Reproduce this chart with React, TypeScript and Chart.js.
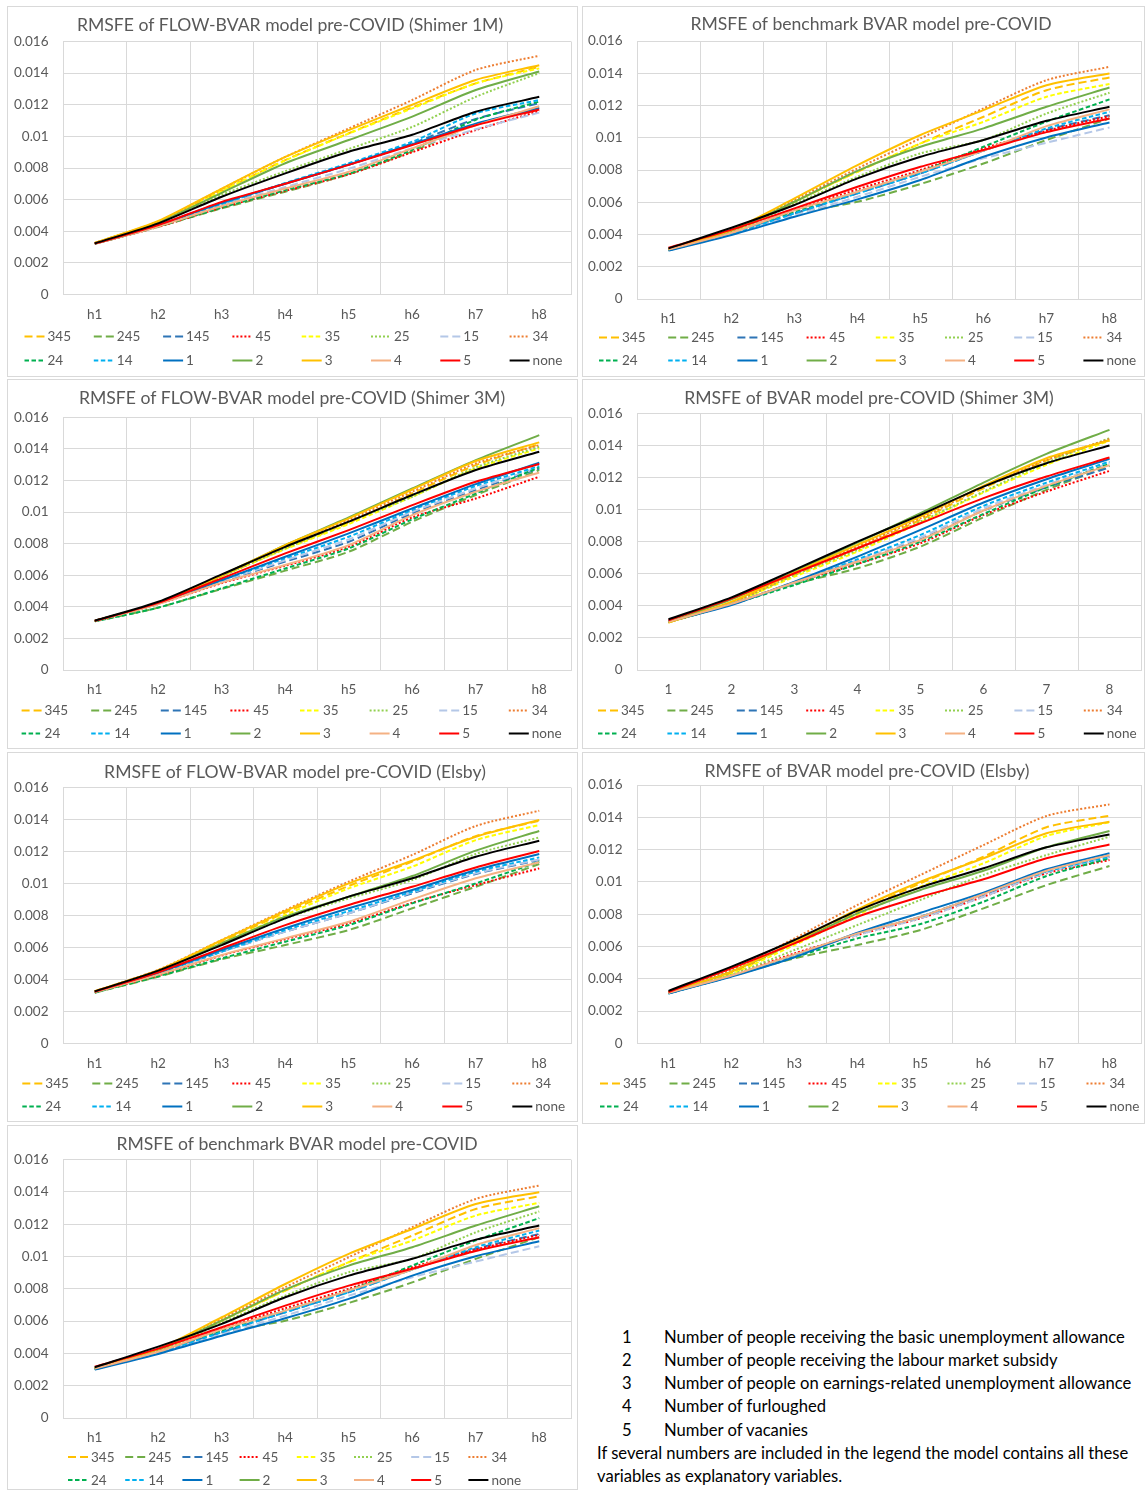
import React, { useEffect, useRef } from 'react';
import { Chart, registerables } from 'chart.js';

Chart.register(...registerables);

// ---------- categories / labels ----------
const hLabels = ['h1', 'h2', 'h3', 'h4', 'h5', 'h6', 'h7', 'h8'];
const numLabels = ['1', '2', '3', '4', '5', '6', '7', '8'];
const seriesNames = ['345', '245', '145', '45', '35', '25', '15', '34', '24', '14', '1', '2', '3', '4', '5', 'none'];
const yTickValues = [0, 0.002, 0.004, 0.006, 0.008, 0.01, 0.012, 0.014, 0.016];

// ---------- series values (rows follow seriesNames order) ----------
const flowShimer1M = [
  [0.00325, 0.00460, 0.00656, 0.00850, 0.01020, 0.01183, 0.01335, 0.01440],
  [0.00321, 0.00428, 0.00545, 0.00650, 0.00760, 0.00905, 0.01075, 0.01170],
  [0.00322, 0.00438, 0.00570, 0.00702, 0.00820, 0.00955, 0.01110, 0.01210],
  [0.00321, 0.00428, 0.00550, 0.00655, 0.00760, 0.00900, 0.01040, 0.01160],
  [0.00325, 0.00458, 0.00655, 0.00848, 0.01018, 0.01177, 0.01335, 0.01430],
  [0.00324, 0.00450, 0.00630, 0.00780, 0.00920, 0.01060, 0.01250, 0.01400],
  [0.00321, 0.00432, 0.00565, 0.00680, 0.00795, 0.00925, 0.01045, 0.01150],
  [0.00326, 0.00462, 0.00668, 0.00870, 0.01050, 0.01230, 0.01420, 0.01510],
  [0.00321, 0.00430, 0.00550, 0.00660, 0.00765, 0.00915, 0.01105, 0.01220],
  [0.00322, 0.00438, 0.00572, 0.00705, 0.00830, 0.00966, 0.01145, 0.01230],
  [0.00322, 0.00440, 0.00580, 0.00700, 0.00822, 0.00950, 0.01080, 0.01180],
  [0.00325, 0.00455, 0.00643, 0.00830, 0.00977, 0.01125, 0.01293, 0.01410],
  [0.00326, 0.00465, 0.00670, 0.00870, 0.01040, 0.01200, 0.01357, 0.01450],
  [0.00321, 0.00430, 0.00560, 0.00670, 0.00776, 0.00924, 0.01070, 0.01190],
  [0.00322, 0.00440, 0.00586, 0.00700, 0.00820, 0.00945, 0.01070, 0.01170],
  [0.00323, 0.00450, 0.00618, 0.00766, 0.00903, 0.01010, 0.01156, 0.01250],
];

const benchmarkBvar = [
  [0.00305, 0.00410, 0.00603, 0.00789, 0.00965, 0.01130, 0.01295, 0.01374],
  [0.00302, 0.00405, 0.00530, 0.00603, 0.00713, 0.00840, 0.00986, 0.01120],
  [0.00303, 0.00405, 0.00531, 0.00655, 0.00779, 0.00920, 0.01048, 0.01140],
  [0.00308, 0.00410, 0.00552, 0.00680, 0.00800, 0.00934, 0.01043, 0.01134],
  [0.00305, 0.00410, 0.00603, 0.00789, 0.00965, 0.01099, 0.01254, 0.01333],
  [0.00305, 0.00410, 0.00589, 0.00758, 0.00903, 0.00986, 0.01150, 0.01279],
  [0.00302, 0.00405, 0.00520, 0.00634, 0.00758, 0.00872, 0.00969, 0.01064],
  [0.00308, 0.00420, 0.00613, 0.00810, 0.00996, 0.01182, 0.01357, 0.01440],
  [0.00305, 0.00405, 0.00541, 0.00665, 0.00790, 0.00944, 0.01100, 0.01238],
  [0.00303, 0.00405, 0.00531, 0.00655, 0.00779, 0.00920, 0.01058, 0.01161],
  [0.00300, 0.00397, 0.00510, 0.00618, 0.00738, 0.00882, 0.01002, 0.01095],
  [0.00308, 0.00425, 0.00603, 0.00795, 0.00944, 0.01058, 0.01192, 0.01312],
  [0.00308, 0.00428, 0.00624, 0.00830, 0.01017, 0.01171, 0.01326, 0.01399],
  [0.00306, 0.00410, 0.00550, 0.00665, 0.00790, 0.00920, 0.01072, 0.01176],
  [0.00318, 0.00430, 0.00562, 0.00696, 0.00820, 0.00924, 0.01035, 0.01120],
  [0.00314, 0.00442, 0.00583, 0.00748, 0.00882, 0.00986, 0.01105, 0.01192],
];

const flowShimer3M = [
  [0.00310, 0.00422, 0.00595, 0.00770, 0.00932, 0.01118, 0.01297, 0.01430],
  [0.00308, 0.00395, 0.00513, 0.00629, 0.00749, 0.00939, 0.01108, 0.01266],
  [0.00310, 0.00420, 0.00560, 0.00686, 0.00812, 0.00992, 0.01139, 0.01276],
  [0.00310, 0.00418, 0.00550, 0.00660, 0.00780, 0.00966, 0.01086, 0.01224],
  [0.00310, 0.00422, 0.00595, 0.00765, 0.00924, 0.01097, 0.01276, 0.01403],
  [0.00310, 0.00422, 0.00595, 0.00770, 0.00939, 0.01097, 0.01283, 0.01413],
  [0.00310, 0.00420, 0.00562, 0.00695, 0.00827, 0.01002, 0.01150, 0.01283],
  [0.00311, 0.00424, 0.00600, 0.00780, 0.00949, 0.01129, 0.01308, 0.01424],
  [0.00308, 0.00395, 0.00517, 0.00643, 0.00770, 0.00954, 0.01118, 0.01283],
  [0.00310, 0.00422, 0.00568, 0.00707, 0.00844, 0.01013, 0.01165, 0.01291],
  [0.00311, 0.00422, 0.00570, 0.00717, 0.00865, 0.01023, 0.01177, 0.01312],
  [0.00311, 0.00425, 0.00600, 0.00791, 0.00966, 0.01150, 0.01329, 0.01487],
  [0.00311, 0.00425, 0.00600, 0.00791, 0.00960, 0.01143, 0.01323, 0.01441],
  [0.00310, 0.00418, 0.00553, 0.00665, 0.00791, 0.00981, 0.01129, 0.01251],
  [0.00311, 0.00425, 0.00580, 0.00738, 0.00886, 0.01044, 0.01192, 0.01304],
  [0.00312, 0.00432, 0.00605, 0.00780, 0.00939, 0.01108, 0.01266, 0.01382],
];

const bvarShimer3M = [
  [0.00298, 0.00416, 0.00592, 0.00759, 0.00936, 0.01133, 0.01305, 0.01435],
  [0.00298, 0.00410, 0.00536, 0.00634, 0.00769, 0.00952, 0.01123, 0.01272],
  [0.00300, 0.00410, 0.00545, 0.00676, 0.00815, 0.00994, 0.01139, 0.01262],
  [0.00300, 0.00412, 0.00545, 0.00661, 0.00790, 0.00967, 0.01112, 0.01241],
  [0.00297, 0.00416, 0.00582, 0.00738, 0.00919, 0.01106, 0.01279, 0.01430],
  [0.00298, 0.00416, 0.00592, 0.00748, 0.00925, 0.01112, 0.01293, 0.01445],
  [0.00300, 0.00412, 0.00545, 0.00685, 0.00827, 0.01008, 0.01154, 0.01289],
  [0.00300, 0.00420, 0.00603, 0.00769, 0.00946, 0.01143, 0.01310, 0.01439],
  [0.00300, 0.00410, 0.00530, 0.00661, 0.00800, 0.00973, 0.01139, 0.01285],
  [0.00302, 0.00412, 0.00545, 0.00690, 0.00842, 0.01023, 0.01168, 0.01299],
  [0.00302, 0.00405, 0.00551, 0.00707, 0.00873, 0.01044, 0.01189, 0.01316],
  [0.00300, 0.00440, 0.00613, 0.00794, 0.00977, 0.01168, 0.01347, 0.01497],
  [0.00295, 0.00426, 0.00607, 0.00780, 0.00956, 0.01148, 0.01320, 0.01430],
  [0.00300, 0.00412, 0.00545, 0.00676, 0.00811, 0.00994, 0.01148, 0.01277],
  [0.00310, 0.00447, 0.00603, 0.00759, 0.00915, 0.01071, 0.01206, 0.01324],
  [0.00316, 0.00453, 0.00624, 0.00800, 0.00967, 0.01143, 0.01289, 0.01399],
];

const flowElsby = [
  [0.00325, 0.00455, 0.00636, 0.00818, 0.00985, 0.01137, 0.01297, 0.01393],
  [0.00317, 0.00417, 0.00526, 0.00615, 0.00709, 0.00845, 0.00980, 0.01122],
  [0.00322, 0.00440, 0.00574, 0.00699, 0.00814, 0.00939, 0.01060, 0.01147],
  [0.00320, 0.00425, 0.00550, 0.00651, 0.00751, 0.00880, 0.00991, 0.01095],
  [0.00324, 0.00452, 0.00626, 0.00803, 0.00970, 0.01106, 0.01272, 0.01366],
  [0.00324, 0.00450, 0.00620, 0.00782, 0.00907, 0.01022, 0.01185, 0.01289],
  [0.00322, 0.00438, 0.00574, 0.00699, 0.00814, 0.00945, 0.01064, 0.01151],
  [0.00326, 0.00460, 0.00647, 0.00834, 0.01012, 0.01179, 0.01360, 0.01456],
  [0.00318, 0.00420, 0.00532, 0.00636, 0.00740, 0.00876, 0.01001, 0.01137],
  [0.00322, 0.00440, 0.00574, 0.00709, 0.00828, 0.00949, 0.01074, 0.01164],
  [0.00323, 0.00442, 0.00584, 0.00720, 0.00845, 0.00960, 0.01085, 0.01185],
  [0.00324, 0.00452, 0.00626, 0.00793, 0.00918, 0.01047, 0.01206, 0.01329],
  [0.00326, 0.00458, 0.00645, 0.00828, 0.01001, 0.01143, 0.01293, 0.01398],
  [0.00320, 0.00430, 0.00553, 0.00657, 0.00761, 0.00901, 0.01033, 0.01133],
  [0.00323, 0.00445, 0.00594, 0.00740, 0.00866, 0.00980, 0.01101, 0.01204],
  [0.00325, 0.00455, 0.00615, 0.00782, 0.00918, 0.01033, 0.01168, 0.01268],
];

const bvarElsby = [
  [0.00312, 0.00434, 0.00623, 0.00815, 0.00991, 0.01156, 0.01338, 0.01410],
  [0.00310, 0.00417, 0.00526, 0.00609, 0.00702, 0.00836, 0.00980, 0.01098],
  [0.00310, 0.00417, 0.00547, 0.00678, 0.00784, 0.00920, 0.01063, 0.01156],
  [0.00312, 0.00420, 0.00557, 0.00671, 0.00774, 0.00908, 0.01053, 0.01135],
  [0.00312, 0.00430, 0.00609, 0.00795, 0.00970, 0.01115, 0.01284, 0.01369],
  [0.00312, 0.00425, 0.00578, 0.00733, 0.00888, 0.01043, 0.01166, 0.01280],
  [0.00310, 0.00417, 0.00547, 0.00671, 0.00774, 0.00908, 0.01057, 0.01152],
  [0.00315, 0.00455, 0.00650, 0.00857, 0.01043, 0.01228, 0.01408, 0.01480],
  [0.00310, 0.00417, 0.00533, 0.00650, 0.00739, 0.00877, 0.01036, 0.01146],
  [0.00310, 0.00417, 0.00547, 0.00681, 0.00784, 0.00925, 0.01063, 0.01156],
  [0.00308, 0.00413, 0.00533, 0.00685, 0.00809, 0.00933, 0.01078, 0.01177],
  [0.00315, 0.00444, 0.00623, 0.00805, 0.00950, 0.01069, 0.01214, 0.01315],
  [0.00315, 0.00444, 0.00630, 0.00830, 0.01001, 0.01146, 0.01301, 0.01373],
  [0.00312, 0.00420, 0.00550, 0.00681, 0.00784, 0.00925, 0.01069, 0.01166],
  [0.00318, 0.00465, 0.00619, 0.00784, 0.00908, 0.01016, 0.01146, 0.01232],
  [0.00325, 0.00475, 0.00640, 0.00822, 0.00966, 0.01084, 0.01214, 0.01294],
];

// ---------- styles ----------
const seriesColors = [
  '#FFC000', '#70AD47', '#2E75B6', '#FF0000', '#FFFF00', '#92D050', '#B4C7E7', '#ED7D31',
  '#00B050', '#00B0F0', '#0070C0', '#70AD47', '#FFC000', '#F4B183', '#FF0000', '#000000',
];
const longDash = [8, 4];
const shortDash = [4.5, 2.5];
const dot = [2, 2];
const solid: number[] = [];
const seriesDash = [
  longDash, longDash, longDash, dot, shortDash, dot, longDash, dot,
  shortDash, shortDash, solid, solid, solid, solid, solid, solid,
];

const FONT = 'Lato, "Open Sans", sans-serif';
const GRID = '#D9D9D9';
const TEXT = '#595959';

type PanelSpec = {
  title: string;
  labels: string[];
  values: number[][];
  box: [number, number, number, number]; // left, top, right, bottom (page px)
  plot: [number, number, number, number];
  titlePos: [number, number];
  legend: { x0: number; dx: number; y1: number; y2: number };
};

const panels: PanelSpec[] = [
  {
    title: 'RMSFE of FLOW-BVAR model pre-COVID (Shimer 1M)', labels: hLabels, values: flowShimer1M,
    box: [7, 6, 577, 376], plot: [63, 41.5, 571, 294.5], titlePos: [290, 25],
    legend: { x0: 24.5, dx: 69.3, y1: 336.5, y2: 360.5 },
  },
  {
    title: 'RMSFE of benchmark BVAR model pre-COVID', labels: hLabels, values: benchmarkBvar,
    box: [582, 6, 1144, 376], plot: [637, 41, 1141, 299], titlePos: [871, 24.5],
    legend: { x0: 599, dx: 69.2, y1: 337.5, y2: 360.5 },
  },
  {
    title: 'RMSFE of FLOW-BVAR model pre-COVID (Shimer 3M)', labels: hLabels, values: flowShimer3M,
    box: [7, 379, 577, 748], plot: [63, 417.3, 571, 670], titlePos: [292, 398],
    legend: { x0: 21.6, dx: 69.6, y1: 710.5, y2: 733.5 },
  },
  {
    title: 'RMSFE of BVAR model pre-COVID (Shimer 3M)', labels: numLabels, values: bvarShimer3M,
    box: [582, 379, 1144, 748], plot: [637, 413.3, 1141, 670], titlePos: [869, 398],
    legend: { x0: 598, dx: 69.4, y1: 710.5, y2: 733.5 },
  },
  {
    title: 'RMSFE of FLOW-BVAR model pre-COVID (Elsby)', labels: hLabels, values: flowElsby,
    box: [7, 752, 577, 1121], plot: [63, 787.7, 571, 1043.3], titlePos: [295, 772.5],
    legend: { x0: 22.3, dx: 70, y1: 1083.5, y2: 1106.5 },
  },
  {
    title: 'RMSFE of BVAR model pre-COVID (Elsby)', labels: hLabels, values: bvarElsby,
    box: [582, 752, 1144, 1123], plot: [637, 785, 1141, 1043.3], titlePos: [867, 771.5],
    legend: { x0: 600, dx: 69.5, y1: 1083.5, y2: 1106.5 },
  },
  {
    title: 'RMSFE of benchmark BVAR model pre-COVID', labels: hLabels, values: benchmarkBvar,
    box: [7, 1125, 577, 1489], plot: [63, 1159.7, 571, 1418], titlePos: [297, 1144.5],
    legend: { x0: 68, dx: 57.2, y1: 1457, y2: 1480 },
  },
];

const variableNotes = [
  ['1', 'Number of people receiving the basic unemployment allowance'],
  ['2', 'Number of people receiving the labour market subsidy'],
  ['3', 'Number of people on earnings-related unemployment allowance'],
  ['4', 'Number of furloughed'],
  ['5', 'Number of vacanies'],
];
const footNote = [
  'If several numbers are included in the legend the model contains all these',
  'variables as explanatory variables.',
];

const decorPlugin = {
  id: 'decor',
  afterDraw(chart: any, _args: any, opts: any) {
    const ctx: CanvasRenderingContext2D = chart.ctx;
    ctx.save();
    ctx.fillStyle = TEXT;
    ctx.textBaseline = 'middle';
    ctx.textAlign = 'center';
    ctx.font = `17.6px ${FONT}`;
    ctx.fillText(opts.title, opts.tx, opts.ty);
    ctx.font = `13.5px ${FONT}`;
    chart.data.datasets.forEach((ds: any, i: number) => {
      const col = i % 8;
      const row = Math.floor(i / 8);
      const x = opts.lx0 + col * opts.ldx;
      const y = row === 0 ? opts.ly1 : opts.ly2;
      ctx.beginPath();
      ctx.setLineDash(ds.borderDash || []);
      ctx.strokeStyle = ds.borderColor;
      ctx.lineWidth = 2;
      ctx.moveTo(x, y);
      ctx.lineTo(x + 20, y);
      ctx.stroke();
      ctx.setLineDash([]);
      ctx.textAlign = 'left';
      ctx.fillStyle = TEXT;
      ctx.fillText(ds.label, x + 23, y + 0.5);
    });
    ctx.restore();
  },
};

function PanelChart({ spec }: { spec: PanelSpec }) {
  const ref = useRef<HTMLCanvasElement | null>(null);
  const [bl, bt, br, bb] = spec.box;
  const cx = bl + 1;
  const cy = bt + 1;
  const cw = br - bl - 1;
  const ch = bb - bt - 1;

  useEffect(() => {
    if (!ref.current) return;
    const [pl, pt, pr, pb] = spec.plot;
    const yWidth = pl - cx;
    const topPad = pt - cy;
    const rightPad = cx + cw - pr;
    const xHeight = ch - (pb - cy);
    const chart = new Chart(ref.current, {
      type: 'line',
      data: {
        labels: spec.labels,
        datasets: seriesNames.map((name, i) => ({
          label: name,
          data: spec.values[i],
          borderColor: seriesColors[i],
          backgroundColor: seriesColors[i],
          borderDash: seriesDash[i],
          borderWidth: 2,
          pointRadius: 0,
          pointHoverRadius: 0,
          tension: 0.25,
          fill: false,
          order: seriesNames.length - 1 - i,
        })),
      },
      options: {
        responsive: false,
        animation: false,
        devicePixelRatio: 1,
        events: [],
        layout: { padding: { left: 0, top: topPad, right: rightPad, bottom: 0 } },
        scales: {
          x: {
            type: 'category',
            offset: true,
            grid: { offset: true, color: GRID, lineWidth: 1, drawTicks: false },
            border: { color: GRID },
            ticks: { color: TEXT, font: { family: FONT, size: 13.5 }, padding: 12, maxRotation: 0, autoSkip: false },
            afterFit: (s: any) => { s.height = xHeight; },
          },
          y: {
            min: 0,
            max: 0.016,
            afterBuildTicks: (s: any) => { s.ticks = yTickValues.map((v) => ({ value: v })); },
            grid: { color: GRID, lineWidth: 1, drawTicks: false },
            border: { color: GRID },
            ticks: {
              color: TEXT,
              font: { family: FONT, size: 13.5 },
              padding: 14.5,
              callback: (v: any) => String(parseFloat(Number(v).toFixed(3))),
            },
            afterFit: (s: any) => { s.width = yWidth; },
          },
        },
        plugins: {
          legend: { display: false },
          title: { display: false },
          tooltip: { enabled: false },
          decor: {
            title: spec.title,
            tx: spec.titlePos[0] - cx,
            ty: spec.titlePos[1] - cy,
            lx0: spec.legend.x0 - cx,
            ldx: spec.legend.dx,
            ly1: spec.legend.y1 - cy,
            ly2: spec.legend.y2 - cy,
          },
        } as any,
      },
      plugins: [decorPlugin],
    });
    return () => chart.destroy();
  }, [spec]);

  return (
    <div
      style={{
        position: 'absolute',
        left: bl,
        top: bt,
        width: br - bl + 1,
        height: bb - bt + 1,
        boxSizing: 'border-box',
        border: `1px solid ${GRID}`,
        background: '#fff',
      }}
    >
      <canvas ref={ref} width={cw} height={ch} style={{ position: 'absolute', left: 0, top: 0, width: cw, height: ch }} />
    </div>
  );
}

export default function App() {
  const textStyle: React.CSSProperties = {
    position: 'absolute',
    fontFamily: FONT,
    fontSize: 16.6,
    color: '#000',
    whiteSpace: 'nowrap',
    lineHeight: '20px',
  };
  return (
    <div style={{ position: 'absolute', left: 0, top: 0, width: 1148, height: 1490, background: '#fff' }}>
      {panels.map((p, i) => (
        <PanelChart key={i} spec={p} />
      ))}
      {variableNotes.map(([n, t], i) => (
        <React.Fragment key={n}>
          <div style={{ ...textStyle, left: 622, top: 1326.7 + i * 23.2 }}>{n}</div>
          <div style={{ ...textStyle, left: 664, top: 1326.7 + i * 23.2 }}>{t}</div>
        </React.Fragment>
      ))}
      {footNote.map((t, i) => (
        <div key={i} style={{ ...textStyle, left: 597, top: 1442.7 + i * 23.2 }}>{t}</div>
      ))}
    </div>
  );
}
